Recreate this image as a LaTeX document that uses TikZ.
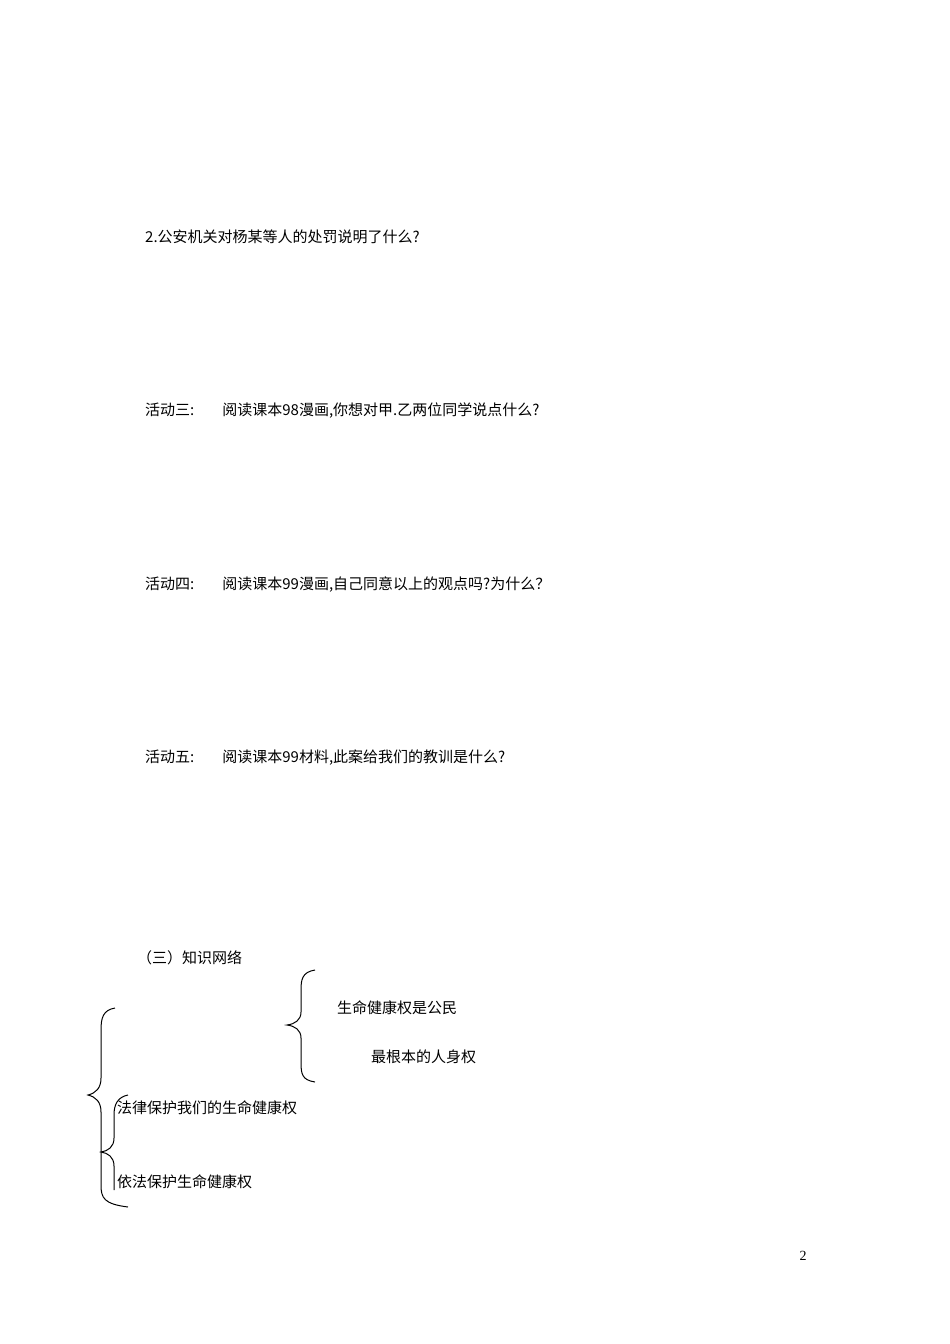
\documentclass[tikz,border=0pt]{standalone}
\usepackage{fontspec}
\setmainfont{Liberation Serif}
\newfontfamily\cjk{Noto Sans CJK SC}
\begin{document}
\begin{tikzpicture}[x=1pt,y=-1pt,
  txt/.style={anchor=west,inner sep=0pt,font=\cjk\fontsize{15}{18}\selectfont},
  br/.style={line width=1pt}]
\useasboundingbox (0,0) rectangle (950,1344);
\node[txt] (q2) at (145,237) {2.公安机关对杨某等人的处罚说明了什么?};
\node[txt] (a3) at (145,411) {活动三:\hspace{28pt}阅读课本98漫画,你想对甲.乙两位同学说点什么?};
\node[txt] (a4) at (145,585) {活动四:\hspace{28pt}阅读课本99漫画,自己同意以上的观点吗?为什么？};
\node[txt] (a5) at (145,758) {活动五:\hspace{28pt}阅读课本99材料,此案给我们的教训是什么?};
\node[txt] (kn) at (137,958) {（三）知识网络};
\node[txt] (t1) at (337,1008) {生命健康权是公民};
\node[txt] (t2) at (371,1057) {最根本的人身权};
\node[txt] (t3) at (117,1108) {法律保护我们的生命健康权};
\node[txt] (t4) at (117,1182) {依法保护生命健康权};
\node[anchor=center,font=\fontsize{14}{16}\selectfont] (pg) at (803,1256) {2};
% top brace
\draw[br] (315,970) .. controls (302,972) and (301,980) .. (301,990) -- (301,1012)
  .. controls (301,1020) and (295,1024) .. (287,1025)
  .. controls (295,1026) and (301,1030) .. (301,1038) -- (301,1062)
  .. controls (301,1074) and (302,1080) .. (315,1082);
% big left brace
\draw[br] (115,1008) .. controls (103,1010) and (101,1018) .. (101,1030) -- (101,1078)
  .. controls (101,1088) and (96,1093) .. (88,1095)
  .. controls (96,1097) and (101,1102) .. (101,1112) -- (101,1185)
  .. controls (101,1198) and (104,1204) .. (128,1207);
% inner brace
\draw[br] (128,1095) .. controls (118,1097) and (114,1104) .. (114,1115) -- (114,1138)
  .. controls (114,1147) and (108,1151) .. (101,1152)
  .. controls (108,1153) and (114,1157) .. (114,1166) -- (114,1190);
\end{tikzpicture}
\end{document}
